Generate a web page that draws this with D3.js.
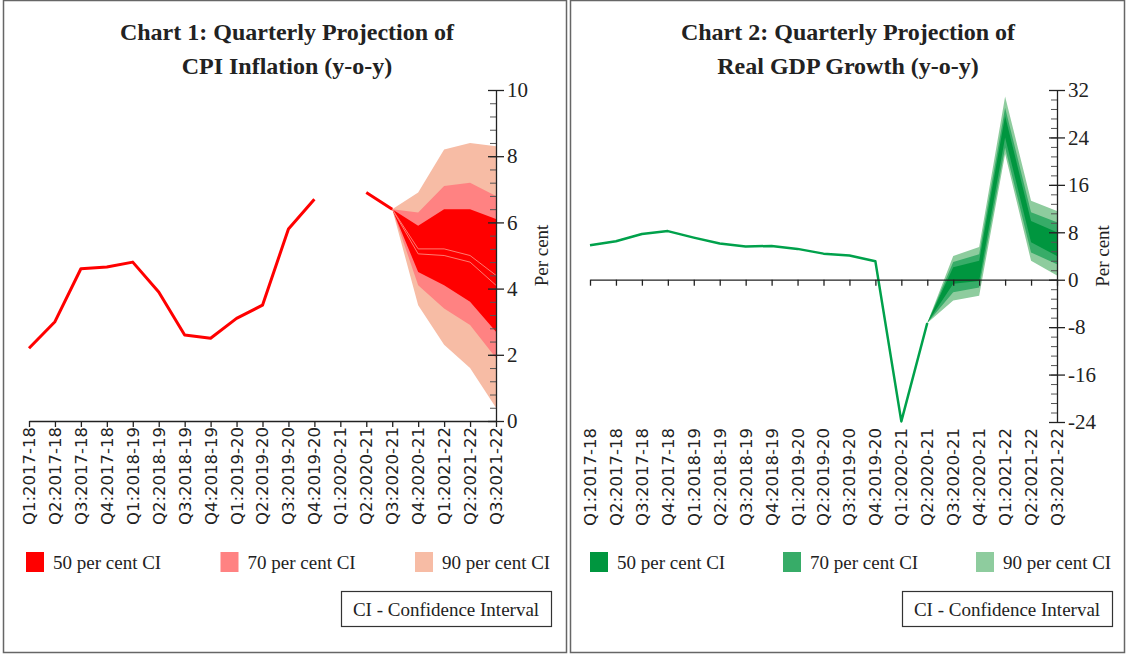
<!DOCTYPE html>
<html>
<head>
<meta charset="utf-8">
<script src="https://cdn.jsdelivr.net/npm/d3@7"></script>
<style>
  body { margin: 0; background: #fff; }
  svg { display: block; }
  .title { font-family: "Liberation Serif", serif; font-weight: bold; font-size: 24px; fill: #222; }
  .ytick text { font-family: "Liberation Serif", serif; font-size: 21px; fill: #222; }
  .xlab { font-family: "DejaVu Sans", sans-serif; font-size: 16.5px; fill: #222; }
  .leg { font-family: "Liberation Serif", serif; font-size: 19px; fill: #222; }
</style>
</head>
<body>
<div id="chart-area"></div>
<script>
// quarters on the x axis (both charts)
const quarters = ["Q1:2017-18", "Q2:2017-18", "Q3:2017-18", "Q4:2017-18",
  "Q1:2018-19", "Q2:2018-19", "Q3:2018-19", "Q4:2018-19",
  "Q1:2019-20", "Q2:2019-20", "Q3:2019-20", "Q4:2019-20",
  "Q1:2020-21", "Q2:2020-21", "Q3:2020-21", "Q4:2020-21",
  "Q1:2021-22", "Q2:2021-22", "Q3:2021-22"]

// Chart 1 - CPI inflation, actuals (null = no data)
const cpiActual = [2.2, 3.0, 4.6, 4.65, 4.8, 3.9, 2.6, 2.5, 3.1, 3.5, 5.8, 6.7, null, 6.9, 6.4]
const cpiFanQuarters = ["Q3:2020-21", "Q4:2020-21", "Q1:2021-22", "Q2:2021-22", "Q3:2021-22"]
const cpi90Upper = [6.4, 6.9, 8.2, 8.4, 8.3]
const cpi70Upper = [6.4, 6.3, 7.1, 7.2, 6.8]
const cpi50Upper = [6.4, 5.9, 6.4, 6.4, 6.1]
const cpiMidA = [6.4, 5.2, 5.2, 5.0, 4.4]
const cpiMidB = [6.4, 5.05, 5.0, 4.8, 4.1]
const cpi50Lower = [6.4, 4.5, 4.1, 3.6, 2.7]
const cpi70Lower = [6.4, 4.1, 3.4, 2.9, 1.9]
const cpi90Lower = [6.4, 3.5, 2.3, 1.6, 0.4]
const cpiTicks = [0, 2, 4, 6, 8, 10]

// Chart 2 - real GDP growth
const gdpActual = [5.8, 6.5, 7.7, 8.2, 7.1, 6.1, 5.6, 5.7, 5.2, 4.4, 4.1, 3.1, -23.9, -7.3]
const gdpFanQuarters = ["Q2:2020-21", "Q3:2020-21", "Q4:2020-21", "Q1:2021-22", "Q2:2021-22", "Q3:2021-22"]
const gdp90Upper = [-7.3, 4.0, 5.5, 30.9, 13.3, 11.6]
const gdp70Upper = [-7.3, 3.0, 4.3, 29.0, 11.4, 9.7]
const gdp50Upper = [-7.3, 2.1, 3.2, 27.6, 9.9, 8.0]
const gdp50Lower = [-7.3, -0.7, -0.2, 24.0, 6.3, 4.0]
const gdp70Lower = [-7.3, -2.1, -1.3, 22.3, 4.6, 2.6]
const gdp90Lower = [-7.3, -3.5, -2.7, 21.2, 3.2, 0.7]
const gdpTicks = [-24, -16, -8, 0, 8, 16, 24, 32]

const ciLabels = ["50 per cent CI", "70 per cent CI", "90 per cent CI"]

const svg = d3.select("#chart-area").append("svg")
  .attr("width", 1127)
  .attr("height", 655)

// panel frames
svg.append("rect").attr("x", 3.5).attr("y", 0.5).attr("width", 563).attr("height", 652)
  .attr("fill", "none").attr("stroke", "#666").attr("stroke-width", 1.5)
svg.append("rect").attr("x", 570.5).attr("y", 0.5).attr("width", 554).attr("height", 652)
  .attr("fill", "none").attr("stroke", "#666").attr("stroke-width", 1.5)

function drawPanel(opt) {
  const g = svg.append("g")

  const x = d3.scalePoint().domain(quarters).range([opt.x0, opt.x1])
  const y = d3.scaleLinear().domain(opt.domain).range([opt.yBottom, opt.yTop])

  // titles
  opt.title.forEach((t, i) => {
    g.append("text").attr("class", "title")
      .attr("x", opt.titleX).attr("y", 40 + i * 34)
      .attr("text-anchor", "middle").text(t)
  })

  // fan bands, widest first
  const area = d3.area()
    .x((d, i) => x(opt.fanQ[i]))
    .y0(d => y(d[0]))
    .y1(d => y(d[1]))
  opt.bands.forEach((b, k) => {
    g.append("path")
      .datum(b.lo.map((v, i) => [v, b.hi[i]]))
      .attr("d", area)
      .attr("fill", opt.colors[2 - k])
  })

  // thin lines inside the fan
  if (opt.midLines) {
    opt.midLines.forEach(m => {
      g.append("path")
        .datum(m)
        .attr("d", d3.line().x((d, i) => x(opt.fanQ[i])).y(d => y(d)))
        .attr("fill", "none").attr("stroke", "#ff7a70").attr("stroke-width", 1)
    })
  }

  // actual line
  const line = d3.line()
    .defined(d => d != null)
    .x((d, i) => x(quarters[i]))
    .y(d => y(d))
  g.append("path")
    .datum(opt.actual)
    .attr("d", line)
    .attr("fill", "none")
    .attr("stroke", opt.lineColor)
    .attr("stroke-width", opt.lineWidth)
    .attr("stroke-linejoin", "round")

  // x axis at zero
  const xAxis = g.append("g")
    .attr("transform", `translate(0,${y(0)})`)
    .call(d3.axisBottom(x).tickSize(6).tickSizeOuter(0).tickFormat(""))
  xAxis.select(".domain").attr("stroke", "#222").attr("stroke-width", 1.3)
  xAxis.selectAll(".tick line").attr("stroke", "#222").attr("stroke-width", 1.3)

  // x labels at the bottom
  g.append("g").selectAll("text").data(quarters).join("text")
    .attr("class", "xlab")
    .attr("transform", d => `translate(${x(d)},${opt.yBottom + 6}) rotate(-90)`)
    .attr("text-anchor", "end")
    .attr("dy", "0.36em")
    .text(d => d)

  // y axis: minor ticks
  const minor = g.append("g")
    .attr("transform", `translate(${opt.x1},0)`)
    .call(d3.axisLeft(y).tickValues(opt.minorTicks).tickSize(6).tickSizeOuter(0).tickFormat(""))
  minor.select(".domain").remove()
  minor.selectAll(".tick line").attr("stroke", "#555").attr("stroke-width", 1)

  // y axis: majors, crossing the line
  const yAxis = g.append("g")
    .attr("class", "ytick")
    .attr("transform", `translate(${opt.x1},0)`)
    .call(d3.axisRight(y).tickValues(opt.ticks).tickSize(8).tickPadding(3).tickSizeOuter(0)
      .tickFormat(d => String(d)))
  yAxis.select(".domain").attr("stroke", "#222").attr("stroke-width", 1.3)
  yAxis.selectAll(".tick line").attr("x1", -8).attr("stroke", "#222").attr("stroke-width", 1.3)
  yAxis.selectAll(".tick text").attr("font-family", null).attr("font-size", null)

  g.append("text").attr("class", "leg")
    .attr("transform", `translate(${opt.x1 + 52},${(opt.yTop + opt.yBottom) / 2}) rotate(-90)`)
    .attr("text-anchor", "middle")
    .text("Per cent")

  // legend
  const leg = g.append("g").selectAll("g").data(ciLabels).join("g")
    .attr("transform", (d, i) => `translate(${opt.legX + i * opt.legStep},552)`)
  leg.append("rect").attr("width", 18).attr("height", 20)
    .attr("fill", (d, i) => opt.colors[i])
  leg.append("text").attr("class", "leg")
    .attr("x", 27).attr("y", 17).text(d => d)

  // CI note box
  g.append("rect").attr("x", opt.boxX + 0.5).attr("y", 591.5).attr("width", 210).attr("height", 35)
    .attr("fill", "none").attr("stroke", "#333").attr("stroke-width", 1.2)
  g.append("text").attr("class", "leg")
    .attr("x", opt.boxX + 105).attr("y", 616).attr("text-anchor", "middle")
    .text("CI - Confidence Interval")
}

drawPanel({
  title: ["Chart 1: Quarterly Projection of", "CPI Inflation (y-o-y)"],
  titleX: 287,
  x0: 29, x1: 496,
  yTop: 90, yBottom: 421,
  domain: [0, 10],
  ticks: cpiTicks,
  minorTicks: d3.range(0, 10.01, 0.4),
  actual: cpiActual,
  fanQ: cpiFanQuarters,
  bands: [
    { lo: cpi90Lower, hi: cpi90Upper },
    { lo: cpi70Lower, hi: cpi70Upper },
    { lo: cpi50Lower, hi: cpi50Upper }
  ],
  midLines: [cpiMidA, cpiMidB],
  colors: ["#ff0000", "#ff8282", "#f7bca5"],
  lineColor: "#ff0000",
  lineWidth: 3,
  legX: 26, legStep: 194.5,
  boxX: 341
})

drawPanel({
  title: ["Chart 2: Quarterly Projection of", "Real GDP Growth (y-o-y)"],
  titleX: 848,
  x0: 590, x1: 1057,
  yTop: 90, yBottom: 422,
  domain: [-24, 32],
  ticks: gdpTicks,
  minorTicks: d3.range(-24, 32.01, 1.6),
  actual: gdpActual,
  fanQ: gdpFanQuarters,
  bands: [
    { lo: gdp90Lower, hi: gdp90Upper },
    { lo: gdp70Lower, hi: gdp70Upper },
    { lo: gdp50Lower, hi: gdp50Upper }
  ],
  colors: ["#00963f", "#37ac68", "#8ecc9e"],
  lineColor: "#00a14b",
  lineWidth: 2.5,
  legX: 590, legStep: 193,
  boxX: 902
})
</script>
</body>
</html>
